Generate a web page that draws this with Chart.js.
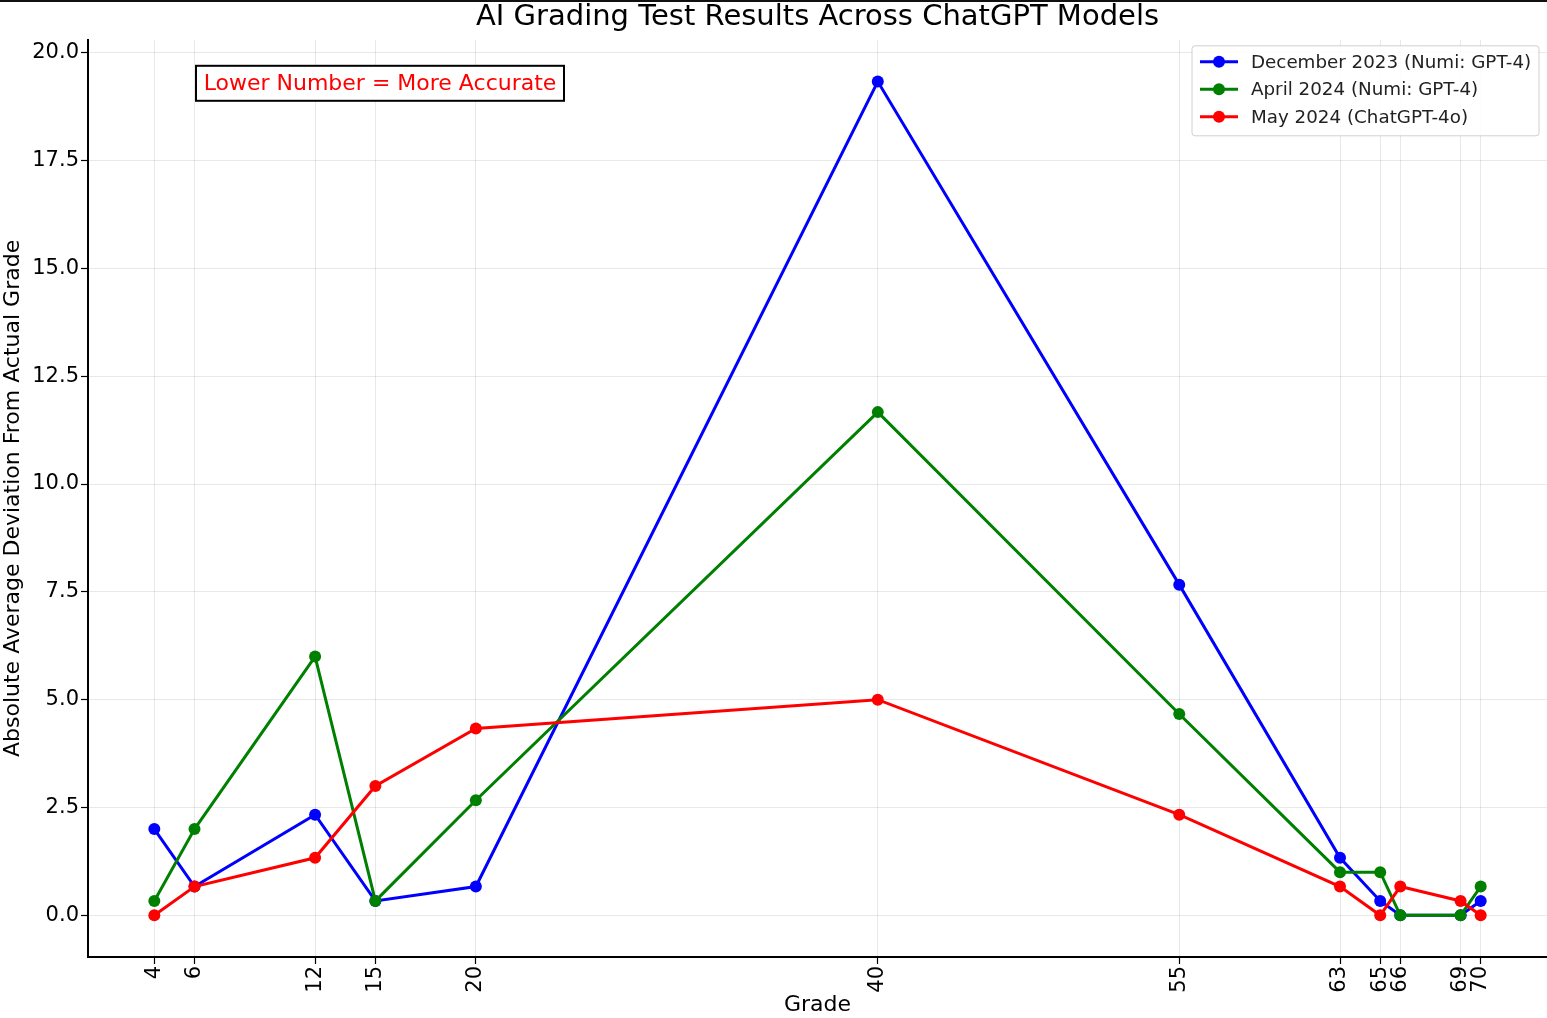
<!DOCTYPE html>
<html>
<head>
<meta charset="utf-8">
<script src="https://cdn.jsdelivr.net/npm/chart.js@4.4.1/dist/chart.umd.min.js"></script>
<style>
  html, body { margin: 0; padding: 0; background: #fff; }
  canvas { display: block; }
</style>
</head>
<body>
<canvas id="c" width="1547" height="1018" style="width:1547px;height:1018px"></canvas>
<script>
const FONT = "'DejaVu Sans', 'Liberation Sans', sans-serif";

// grades on the x axis (also the tick positions)
const grades = [4, 6, 12, 15, 20, 40, 55, 63, 65, 66, 69, 70];
const dec2023 = [2.0, 0.667, 2.333, 0.333, 0.667, 19.333, 7.667, 1.333, 0.333, 0, 0, 0.333];
const apr2024 = [0.333, 2.0, 6.0, 0.333, 2.667, 11.667, 4.667, 1.0, 1.0, 0, 0, 0.667];
const may2024 = [0, 0.667, 1.333, 3.0, 4.333, 5.0, 2.333, 0.667, 0, 0.667, 0.333, 0];
const yTicks = [0, 2.5, 5, 7.5, 10, 12.5, 15, 17.5, 20];

const seriesNames = ['December 2023 (Numi: GPT-4)', 'April 2024 (Numi: GPT-4)', 'May 2024 (ChatGPT-4o)'];
const seriesColors = ['#0000ff', '#008000', '#ff0000'];

const pts = vals => vals.map((v, i) => ({ x: grades[i], y: v }));

const ds = (i, vals) => ({
  label: seriesNames[i],
  data: pts(vals),
  borderColor: seriesColors[i],
  backgroundColor: seriesColors[i],
  pointBackgroundColor: seriesColors[i],
  pointBorderWidth: 0,
  pointRadius: 6,
  borderWidth: 3,
  tension: 0,
  order: 3 - i
});

const overlay = {
  id: 'overlay',
  beforeDraw(chart) {
    const { ctx, width, height } = chart;
    ctx.save();
    ctx.fillStyle = '#fff';
    ctx.fillRect(0, 0, width, height);
    ctx.restore();
  },
  afterDraw(chart) {
    const { ctx, chartArea: a } = chart;
    ctx.save();
    // thin dark rule along the top edge
    ctx.fillStyle = '#111';
    ctx.fillRect(0, 0, chart.width, 2);

    // note box
    const bx = a.left + 108, by = a.top + 26, bw = 368, bh = 35;
    ctx.fillStyle = '#fff';
    ctx.fillRect(bx, by, bw, bh);
    ctx.strokeStyle = '#000';
    ctx.lineWidth = 2;
    ctx.strokeRect(bx, by, bw, bh);
    ctx.fillStyle = '#ff0000';
    ctx.font = '22px ' + FONT;
    ctx.textAlign = 'center';
    ctx.textBaseline = 'middle';
    ctx.fillText('Lower Number = More Accurate', bx + bw / 2, by + bh / 2 + 1);

    // legend
    const lx = a.right - 355, ly = a.top + 6, lw = 347, lh = 90;
    ctx.fillStyle = 'rgba(255,255,255,0.85)';
    ctx.strokeStyle = '#d0d0d0';
    ctx.lineWidth = 1;
    ctx.beginPath();
    ctx.roundRect(lx, ly, lw, lh, 3);
    ctx.fill();
    ctx.stroke();
    ctx.font = '18.3px ' + FONT;
    ctx.textAlign = 'left';
    seriesNames.forEach((name, i) => {
      const yy = ly + 16 + i * 27.5;
      ctx.strokeStyle = seriesColors[i];
      ctx.lineWidth = 3;
      ctx.beginPath();
      ctx.moveTo(lx + 8, yy);
      ctx.lineTo(lx + 46, yy);
      ctx.stroke();
      ctx.fillStyle = seriesColors[i];
      ctx.beginPath();
      ctx.arc(lx + 27, yy, 6, 0, Math.PI * 2);
      ctx.fill();
      ctx.fillStyle = '#222';
      ctx.fillText(name, lx + 59, yy + 1);
    });
    ctx.restore();
  }
};

new Chart(document.getElementById('c'), {
  type: 'line',
  data: {
    datasets: [ds(0, dec2023), ds(1, apr2024), ds(2, may2024)]
  },
  options: {
    responsive: false,
    animation: false,
    devicePixelRatio: 1,
    layout: { padding: 0, autoPadding: false },
    plugins: {
      legend: { display: false },
      tooltip: { enabled: false },
      title: {
        display: true,
        text: 'AI Grading Test Results Across ChatGPT Models',
        color: '#000',
        fullSize: false,
        font: { family: FONT, size: 29, weight: 'normal' },
        padding: { top: 0, bottom: 5 }
      }
    },
    scales: {
      x: {
        type: 'linear',
        min: 0.7, max: 73.3,
        afterBuildTicks: s => { s.ticks = grades.map(v => ({ value: v })); },
        afterFit: s => { s.height = 61; s.paddingLeft = 0; s.paddingRight = 0; },
        border: { color: '#000', width: 2 },
        grid: { color: 'rgba(0,0,0,0.09)', lineWidth: 1, tickColor: '#000', tickLength: 7, tickWidth: 1.2 },
        ticks: {
          autoSkip: false, minRotation: 90, maxRotation: 90, padding: 2,
          color: '#000', font: { family: FONT, size: 21 },
          callback: v => String(v)
        },
        title: { display: true, text: 'Grade', color: '#000', font: { family: FONT, size: 22 }, padding: 0 }
      },
      y: {
        min: -0.967, max: 20.3,
        afterBuildTicks: s => { s.ticks = yTicks.map(v => ({ value: v })); },
        afterFit: s => { s.width = 88; s.paddingTop = 0; s.paddingBottom = 0; },
        border: { color: '#000', width: 2 },
        grid: { color: 'rgba(0,0,0,0.09)', lineWidth: 1, tickColor: '#000', tickLength: 7, tickWidth: 1.2 },
        ticks: {
          padding: 2, color: '#000', font: { family: FONT, size: 21 },
          callback: v => Number(v).toFixed(1)
        },
        title: { display: true, text: 'Absolute Average Deviation From Actual Grade', color: '#000', font: { family: FONT, size: 22 }, padding: { top: 0, bottom: 0 } }
      }
    }
  },
  plugins: [overlay]
});
</script>
</body>
</html>
